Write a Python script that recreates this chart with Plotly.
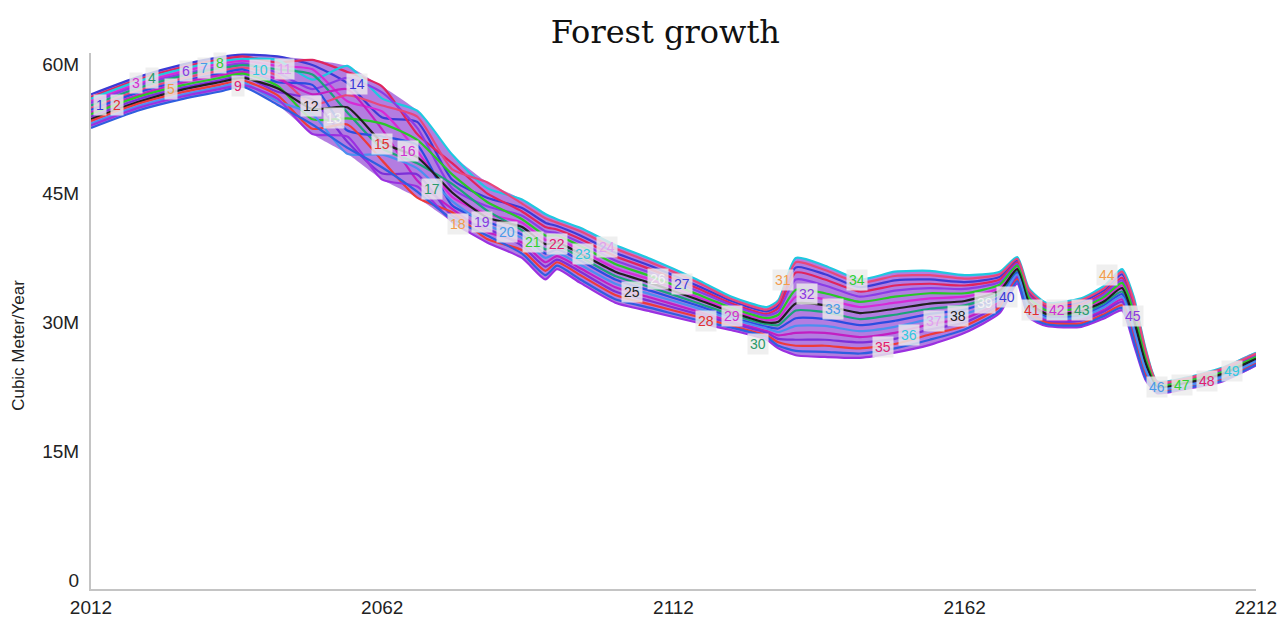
import numpy as np
import plotly.graph_objects as go

# Simulation years (knots) shared by every run
years = [2012, 2020, 2028, 2034, 2038, 2044, 2050, 2056, 2062, 2068, 2074, 2080, 2086, 2090,
         2092, 2096, 2102, 2108, 2116, 2122, 2128, 2130, 2133, 2138, 2144, 2150, 2156, 2162,
         2168, 2171, 2173, 2176, 2182, 2186, 2189, 2191, 2193, 2195, 2200, 2206, 2212]

# Annual growth per run, million cubic metres per year
run_01 = [56.5, 58.5, 60.0, 60.8, 61.1, 60.9, 59.9, 57.8, 53.8, 53.3, 46.6, 44.5, 43.3, 41.6, 41.2, 40.1, 38.1, 36.6, 34.3, 32.5, 31.3, 32.0, 36.4, 35.6, 34.1, 34.9, 35.0, 34.7, 35.3, 37.2, 33.5, 31.9, 32.4, 33.8, 35.6, 32.3, 26.6, 23.0, 23.4, 24.5, 26.3]
run_02 = [56.2, 58.2, 59.7, 60.5, 60.9, 60.2, 60.5, 59.1, 57.4, 51.9, 48.5, 45.0, 42.9, 41.1, 40.8, 39.7, 37.7, 36.2, 34.0, 32.2, 31.0, 31.7, 35.8, 35.0, 33.6, 34.3, 34.5, 34.3, 35.0, 37.0, 33.3, 31.8, 32.1, 33.5, 35.2, 31.9, 26.4, 22.9, 23.3, 24.4, 26.2]
run_03 = [56.0, 58.0, 59.5, 60.3, 60.6, 60.5, 58.2, 59.8, 56.0, 54.6, 49.5, 45.6, 44.3, 42.6, 42.0, 41.0, 39.0, 37.4, 35.0, 33.0, 31.8, 32.6, 37.5, 36.6, 35.0, 35.9, 36.0, 35.5, 35.9, 37.6, 34.0, 32.3, 32.8, 34.3, 36.2, 33.0, 27.1, 23.2, 23.6, 24.7, 26.5]
run_04 = [55.7, 57.7, 59.2, 60.0, 60.4, 59.8, 59.4, 55.7, 54.5, 49.9, 44.6, 42.6, 41.6, 39.6, 39.7, 38.4, 36.3, 35.0, 33.0, 31.4, 30.3, 30.5, 33.0, 32.7, 31.8, 32.3, 32.8, 33.0, 34.0, 36.4, 32.6, 31.2, 31.5, 32.8, 34.3, 30.8, 25.6, 22.6, 23.1, 24.1, 25.9]
run_05 = [55.5, 57.5, 58.9, 59.7, 60.1, 59.0, 57.1, 58.4, 56.7, 52.6, 45.6, 43.5, 42.4, 40.6, 40.4, 39.3, 37.2, 35.8, 33.7, 32.0, 30.8, 31.3, 35.0, 34.3, 33.0, 33.7, 34.0, 33.9, 34.7, 36.8, 33.1, 31.6, 31.9, 33.3, 34.9, 31.5, 26.1, 22.8, 23.2, 24.3, 26.1]
run_06 = [55.2, 57.2, 58.7, 59.5, 59.9, 59.4, 58.8, 54.4, 50.2, 48.5, 46.1, 43.0, 40.7, 38.5, 38.9, 37.6, 35.4, 34.1, 32.3, 30.9, 29.8, 29.7, 31.4, 31.2, 30.4, 30.9, 31.6, 32.0, 33.4, 36.0, 32.2, 30.9, 31.0, 32.3, 33.6, 30.1, 25.1, 22.5, 22.9, 23.8, 25.7]
run_07 = [54.9, 56.9, 58.4, 59.2, 59.6, 58.7, 55.3, 56.4, 55.2, 53.9, 47.8, 46.3, 43.8, 42.1, 41.6, 40.6, 38.6, 37.0, 34.7, 32.7, 31.5, 32.3, 37.0, 36.1, 34.6, 35.4, 35.5, 35.1, 35.6, 37.4, 33.8, 32.1, 32.6, 34.0, 35.9, 32.6, 26.9, 23.1, 23.5, 24.6, 26.4]
run_08 = [54.7, 56.7, 58.1, 58.9, 59.4, 57.9, 57.6, 52.3, 51.6, 50.6, 43.6, 41.7, 40.2, 38.0, 38.5, 37.2, 35.0, 33.7, 32.0, 30.6, 29.5, 29.3, 30.5, 30.4, 29.7, 30.2, 31.0, 31.5, 33.0, 35.8, 31.9, 30.7, 30.8, 32.0, 33.3, 29.7, 24.9, 22.4, 22.8, 23.7, 25.6]
run_09 = [54.4, 56.4, 57.9, 58.7, 59.1, 58.3, 56.5, 57.1, 52.4, 46.5, 43.2, 40.5, 39.3, 37.0, 37.7, 36.3, 34.1, 32.9, 31.3, 30.1, 29.0, 28.5, 28.8, 28.8, 28.3, 28.8, 29.8, 30.5, 32.4, 35.4, 31.5, 30.3, 30.4, 31.5, 32.7, 29.0, 24.4, 22.2, 22.7, 23.5, 25.4]
run_10 = [54.2, 56.2, 57.6, 58.4, 58.9, 57.5, 53.6, 53.7, 53.1, 51.2, 47.2, 44.0, 42.0, 40.1, 40.1, 38.9, 36.8, 35.4, 33.3, 31.7, 30.5, 30.9, 33.8, 33.4, 32.4, 33.0, 33.4, 33.4, 34.4, 36.6, 32.9, 31.4, 31.7, 33.0, 34.6, 31.2, 25.9, 22.7, 23.2, 24.2, 26.0]
run_11 = [53.9, 55.9, 57.3, 58.1, 58.6, 56.8, 55.9, 51.0, 47.3, 47.2, 42.4, 40.9, 38.9, 36.5, 37.3, 35.9, 33.6, 32.5, 31.0, 29.9, 28.8, 28.1, 28.0, 28.0, 27.7, 28.1, 29.2, 30.0, 32.1, 35.2, 31.3, 30.1, 30.2, 31.3, 32.4, 28.6, 24.1, 22.1, 22.6, 23.4, 25.3]
run_12 = [53.6, 55.6, 57.1, 57.9, 58.4, 57.2, 54.8, 55.0, 50.9, 49.2, 45.1, 42.2, 41.1, 39.1, 39.3, 38.0, 35.9, 34.6, 32.7, 31.2, 30.0, 30.1, 32.2, 32.0, 31.1, 31.6, 32.2, 32.5, 33.7, 36.2, 32.4, 31.0, 31.3, 32.5, 34.0, 30.4, 25.4, 22.5, 23.0, 24.0, 25.8]
run_13 = [53.4, 55.4, 56.8, 57.6, 58.1, 56.4, 52.5, 53.0, 48.8, 44.5, 42.8, 39.7, 38.4, 36.0, 37.0, 35.5, 33.2, 32.1, 30.7, 29.6, 28.5, 27.7, 27.3, 27.3, 27.0, 27.5, 28.6, 29.6, 31.8, 35.0, 31.1, 30.0, 29.9, 31.0, 32.0, 28.2, 23.9, 22.0, 22.5, 23.3, 25.2]
run_14 = [53.1, 55.1, 56.5, 57.3, 57.9, 55.7, 54.2, 49.6, 49.5, 47.9, 44.1, 41.3, 39.8, 37.5, 38.1, 36.7, 34.5, 33.3, 31.7, 30.4, 29.3, 28.9, 29.6, 29.6, 29.0, 29.5, 30.4, 31.0, 32.7, 35.6, 31.7, 30.5, 30.6, 31.8, 33.0, 29.3, 24.6, 22.3, 22.7, 23.6, 25.5]
run_15 = [52.9, 54.9, 56.3, 57.1, 57.6, 56.0, 51.9, 51.6, 46.6, 45.8, 41.7, 39.3, 37.5, 35.0, 36.2, 34.6, 32.3, 31.3, 30.0, 29.1, 28.0, 27.0, 26.2, 26.0, 25.9, 26.5, 27.4, 28.8, 31.1, 34.5, 30.6, 29.6, 29.5, 30.5, 31.4, 27.5, 23.4, 21.8, 22.3, 23.1, 25.0]
run_16 = [52.6, 54.6, 56.0, 56.8, 57.4, 55.3, 53.0, 50.3, 48.0, 45.2, 42.0, 40.1, 38.0, 35.5, 36.6, 35.0, 32.7, 31.7, 30.3, 29.4, 28.3, 27.3, 26.7, 26.6, 26.4, 27.0, 28.0, 29.2, 31.4, 34.8, 30.8, 29.8, 29.7, 30.8, 31.7, 27.9, 23.6, 21.9, 22.4, 23.2, 25.1]

runs = [run_01, run_02, run_03, run_04, run_05, run_06, run_07, run_08,
        run_09, run_10, run_11, run_12, run_13, run_14, run_15, run_16]

run_colors = ["#3b3bd6", "#e0245e", "#1fc8e0", "#d62ad6", "#8a3ce6", "#1aa37a", "#e8467c", "#2a4de0",
              "#c21fc2", "#28c828", "#7d2fd8", "#202020", "#ee3a3a", "#4c8ff0", "#9b30e0", "#2f5ee0"]

# Period markers 1..49 placed along the bundle
marker_years = [2013.5, 2016.5, 2019.7, 2022.5, 2025.7, 2028.3, 2031.4, 2034.1, 2037.2, 2041.0,
                2045.3, 2049.8, 2053.7, 2057.7, 2062.0, 2066.4, 2070.5, 2075.0, 2079.1, 2083.4,
                2087.9, 2092.0, 2096.5, 2100.6, 2104.9, 2109.3, 2113.5, 2117.6, 2122.1, 2126.5,
                2130.8, 2134.9, 2139.4, 2143.5, 2148.0, 2152.4, 2156.7, 2160.8, 2165.5, 2169.3,
                2173.5, 2177.8, 2182.1, 2186.4, 2190.9, 2195.0, 2199.3, 2203.6, 2207.9]
marker_values = [55.3, 55.3, 57.8, 58.4, 57.1, 59.2, 59.6, 60.1, 57.5, 59.3,
                 59.5, 55.2, 53.7, 57.7, 50.7, 49.9, 45.5, 41.4, 41.7, 40.5,
                 39.4, 39.1, 37.9, 38.8, 33.6, 35.0, 34.5, 30.2, 30.7, 27.5,
                 34.9, 33.3, 31.6, 34.9, 27.2, 28.5, 30.2, 30.7, 32.3, 33.0,
                 31.5, 31.4, 31.5, 35.5, 30.8, 22.5, 22.7, 23.2, 24.4]
marker_palette = ["#3a3ad8", "#e03030", "#d030d0", "#2a9a6a", "#f39c4a", "#8a3ae0", "#4a9ae8",
                  "#30d030", "#e02070", "#30c8e0", "#e0a0f0", "#222222", "#f4f4f4"]

y_ticks = [0, 15, 30, 45, 60]
y_tick_text = ["0", "15M", "30M", "45M", "60M"]
x_ticks = [2012, 2062, 2112, 2162, 2212]

fig = go.Figure()

# Envelope of all runs, shaded underneath the individual lines
stack = np.array(runs)
upper = stack.max(axis=0)
lower = stack.min(axis=0)
fig.add_trace(go.Scatter(
    x=years + years[::-1],
    y=list(upper) + list(lower[::-1]),
    fill="toself", fillcolor="rgba(140,58,210,0.66)",
    line=dict(width=0, shape="spline", smoothing=0.6),
    mode="lines", hoverinfo="skip", showlegend=False,
))

for vals, col in zip(runs, run_colors):
    fig.add_trace(go.Scatter(
        x=years, y=vals, mode="lines",
        line=dict(color=col, width=2.2, shape="spline", smoothing=0.6),
        hoverinfo="skip", showlegend=False,
    ))

for i, (xv, yv) in enumerate(zip(marker_years, marker_values)):
    fig.add_annotation(
        x=xv, y=yv, text=str(i + 1), showarrow=False,
        font=dict(family="Liberation Sans, Arial, sans-serif", size=14,
                  color=marker_palette[i % len(marker_palette)]),
        bgcolor="rgba(236,236,236,0.82)", borderpad=2,
    )

axis_font = dict(family="Liberation Sans, Arial, sans-serif", size=19, color="#222222")

# Rotated axis caption
fig.add_annotation(
    text="Cubic Meter/Year", textangle=-90, showarrow=False,
    xref="paper", yref="paper", x=-0.0625, y=0.454, xanchor="center", yanchor="middle",
    font=dict(family="Liberation Sans, Arial, sans-serif", size=17, color="#222222"),
)

fig.update_layout(
    width=1277, height=617,
    margin=dict(l=91, r=21, t=53, b=28, pad=0, autoexpand=False),
    paper_bgcolor="white", plot_bgcolor="white",
    title=dict(text="Forest growth", x=0.521, xref="container", xanchor="center",
               y=0.948, yref="container", yanchor="middle",
               font=dict(family="DejaVu Serif, serif", size=32, color="#111111")),
    xaxis=dict(range=[2012, 2212], tickvals=x_ticks, ticktext=[str(v) for v in x_ticks],
               showgrid=False, zeroline=False, showline=True, linecolor="#c4c4c4", linewidth=2,
               ticks="", tickfont=axis_font, ticklabeloverflow="allow", automargin=False),
    yaxis=dict(range=[-0.95, 61.3], tickvals=y_ticks, ticktext=y_tick_text,
               showgrid=False, zeroline=False, showline=True, linecolor="#c4c4c4", linewidth=2,
               ticks="outside", ticklen=6, tickcolor="rgba(0,0,0,0)", tickfont=axis_font,
               automargin=False),
)

fig.write_html("out.html")
